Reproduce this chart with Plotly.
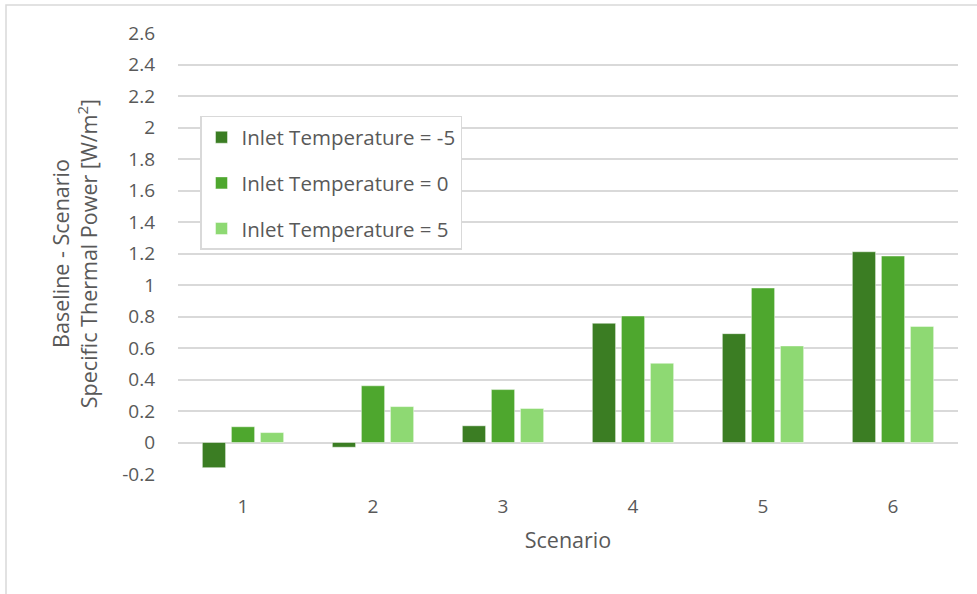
import plotly.graph_objects as go

# Scenario categories and the three inlet-temperature series
scenarios = ["1", "2", "3", "4", "5", "6"]
series_names = ["Inlet Temperature = -5", "Inlet Temperature = 0", "Inlet Temperature = 5"]
values_m5 = [-0.16, -0.03, 0.106, 0.757, 0.691, 1.211]
values_0 = [0.10, 0.36, 0.336, 0.803, 0.981, 1.184]
values_p5 = [0.063, 0.228, 0.216, 0.503, 0.613, 0.737]
y_ticks = [-0.2, 0, 0.2, 0.4, 0.6, 0.8, 1, 1.2, 1.4, 1.6, 1.8, 2, 2.2, 2.4, 2.6]
y_tick_text = ["-0.2", "0", "0.2", "0.4", "0.6", "0.8", "1", "1.2", "1.4", "1.6", "1.8", "2", "2.2", "2.4", "2.6"]

colors = ["#3B7D23", "#4EA72E", "#8ED973"]
TEXT = "#595959"
GRID = "#D9D9D9"
FONT = "Open Sans"

fig = go.Figure()
for i, (name, vals) in enumerate(zip(series_names, [values_m5, values_0, values_p5])):
    fig.add_trace(go.Bar(
        x=scenarios, y=vals, name=name,
        legendgroup=f"g{i}",
        marker=dict(color=colors[i], line=dict(color="rgba(255,255,255,0.45)", width=1)),
    ))

# Outer chart frame
fig.add_shape(type="rect", xref="paper", yref="paper",
              x0=(6 - 178) / 780, x1=(990 - 178) / 780,
              y0=(474.5 - 610) / 441.5, y1=(474.5 - 5) / 441.5,
              line=dict(color=GRID, width=1.5), fillcolor="rgba(0,0,0,0)", layer="below")

fig.update_layout(
    width=977, height=594,
    margin=dict(l=178, r=19, t=33, b=119.5, autoexpand=False),
    paper_bgcolor="white", plot_bgcolor="white",
    barmode="group", bargap=0.33, bargroupgap=0.2,
    font=dict(family=FONT, color=TEXT, size=19),
    showlegend=True,
    legend=dict(
        x=(200 - 178) / 780, y=(474.5 - 116) / 441.5,
        xanchor="left", yanchor="top",
        bgcolor="white", bordercolor=GRID, borderwidth=1.5,
        font=dict(family=FONT, size=20.5, color=TEXT),
        traceorder="grouped", tracegroupgap=16,
        itemwidth=30,
    ),
    xaxis=dict(
        title=dict(text="Scenario", font=dict(size=21.5, color=TEXT), standoff=14),
        showgrid=False, showline=False, zeroline=False,
        ticks="", ticklabelstandoff=19,
        tickfont=dict(size=19, color=TEXT),
        automargin=False,
    ),
    yaxis=dict(
        title=dict(text="Baseline - Scenario<br>Specific Thermal Power [W/m<sup>2</sup>]",
                   font=dict(size=21.5, color=TEXT), standoff=18),
        range=[-0.2, 2.6], tickvals=y_ticks, ticktext=y_tick_text,
        showgrid=True, gridcolor=GRID, gridwidth=1.5,
        zeroline=True, zerolinecolor=GRID, zerolinewidth=1.5,
        showline=False, ticks="", ticklabelstandoff=22,
        tickfont=dict(size=19, color=TEXT),
        automargin=False,
    ),
)

fig.write_html("out.html")
